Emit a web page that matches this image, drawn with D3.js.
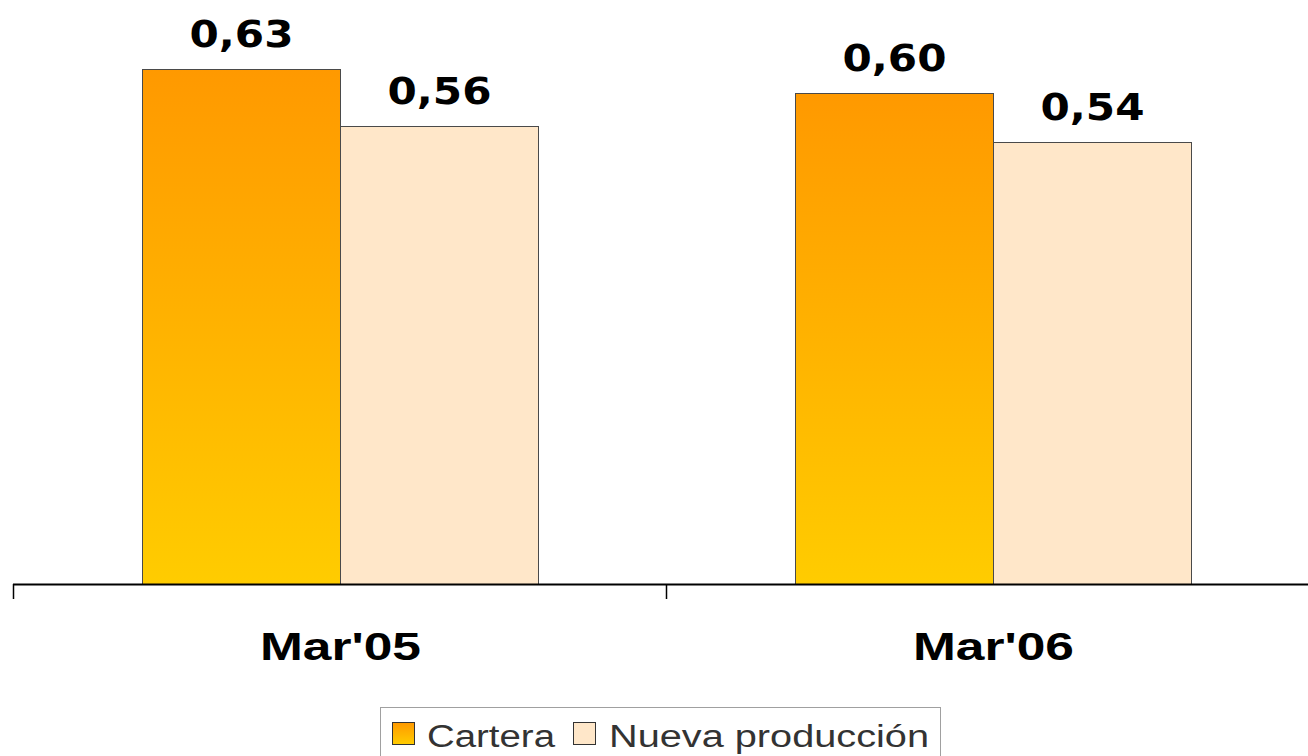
<!DOCTYPE html>
<html>
<head>
<meta charset="utf-8">
<script src="https://cdn.jsdelivr.net/npm/d3@7"></script>
<style>
html,body{margin:0;padding:0;background:#fff;}
svg{display:block;}
</style>
</head>
<body>
<svg id="chart" width="1308" height="756"></svg>
<script>
const categories = ["Mar'05", "Mar'06"];
const series = ["Cartera", "Nueva producción"];
const cartera = [0.63, 0.60];
const nuevaProduccion = [0.56, 0.54];
const valueLabels = [["0,63", "0,56"], ["0,60", "0,54"]];

const svg = d3.select("#chart");
const baseY = 584;

const defs = svg.append("defs");
const g1 = defs.append("linearGradient").attr("id","gradC").attr("x1","0").attr("y1","0").attr("x2","0").attr("y2","1");
g1.append("stop").attr("offset","0%").attr("stop-color","#FF9900");
g1.append("stop").attr("offset","100%").attr("stop-color","#FFCC00");
const g2 = defs.append("linearGradient").attr("id","gradL").attr("x1","0").attr("y1","0").attr("x2","0").attr("y2","1");
g2.append("stop").attr("offset","0%").attr("stop-color","#FF9900");
g2.append("stop").attr("offset","100%").attr("stop-color","#FFCC00");

const x0 = d3.scaleBand().domain(categories).range([13, 1319]).padding(0);
const x1 = d3.scaleBand().domain(series).range([129, 525]).padding(0);
const y = d3.scaleLinear().domain([0, 0.7]).range([baseY, baseY - 0.7 * 818]);

const fills = ["url(#gradC)", "#FFE7C9"];
const data = categories.map((c, i) => ({cat: c, vals: [cartera[i], nuevaProduccion[i]], labels: valueLabels[i]}));

const groups = svg.selectAll("g.grp").data(data).enter().append("g")
  .attr("class","grp").attr("transform", d => `translate(${x0(d.cat)},0)`);

groups.selectAll("rect").data(d => d.vals.map((v, j) => ({s: series[j], v, j}))).enter().append("rect")
  .attr("x", d => x1(d.s) + 0.5)
  .attr("y", d => Math.round(y(d.v)) + 0.5)
  .attr("width", x1.bandwidth())
  .attr("height", d => baseY - Math.round(y(d.v)))
  .attr("fill", d => fills[d.j])
  .attr("stroke", "#4a4a4a")
  .attr("stroke-width", 1);

groups.selectAll("text.val").data(d => d.vals.map((v, j) => ({s: series[j], v, j, l: d.labels[j]}))).enter().append("text")
  .attr("class","val")
  .attr("x", d => x1(d.s) + x1.bandwidth()/2 + 0.5)
  .attr("y", d => y(d.v) - 22)
  .attr("text-anchor","middle")
  .attr("font-family","DejaVu Sans, Verdana, sans-serif")
  .attr("font-weight","bold")
  .attr("font-size", 37)
  .attr("fill","#000")
  .attr("textLength", 104)
  .attr("lengthAdjust","spacingAndGlyphs")
  .text(d => d.l);

// axis
svg.append("line").attr("x1", 13).attr("x2", 1308).attr("y1", baseY + 0.5).attr("y2", baseY + 0.5)
  .attr("stroke","#000").attr("stroke-width", 2);
const bounds = categories.map(c => x0(c)).concat([x0.range()[1]]);
svg.selectAll("line.tick").data(bounds).enter().append("line").attr("class","tick")
  .attr("x1", d => d + 0.5).attr("x2", d => d + 0.5).attr("y1", baseY).attr("y2", baseY + 15)
  .attr("stroke","#000").attr("stroke-width", 1.5);

svg.selectAll("text.cat").data(categories).enter().append("text").attr("class","cat")
  .attr("x", d => x0(d) + x0.bandwidth()/2 + 1)
  .attr("y", 660)
  .attr("text-anchor","middle")
  .attr("font-family","Liberation Sans, Arial, sans-serif")
  .attr("font-weight","bold")
  .attr("font-size", 38)
  .attr("fill","#000")
  .attr("textLength", 161)
  .attr("lengthAdjust","spacingAndGlyphs")
  .text(d => d);

// legend
const lg = svg.append("g");
lg.append("rect").attr("x", 380.5).attr("y", 707.5).attr("width", 560).attr("height", 60)
  .attr("fill","#fff").attr("stroke","#a0a0a0").attr("stroke-width",1);
const legendItems = [
  {name: series[0], sx: 392, tx: 427, tl: 128, fill: "url(#gradL)"},
  {name: series[1], sx: 573, tx: 609, tl: 320, fill: fills[1]}
];
legendItems.forEach(it => {
  lg.append("rect").attr("x", it.sx + 0.5).attr("y", 722.5).attr("width", 22).attr("height", 22)
    .attr("fill", it.fill).attr("stroke","#333").attr("stroke-width",1);
  lg.append("text").attr("x", it.tx).attr("y", 747)
    .attr("font-family","Liberation Sans, Arial, sans-serif")
    .attr("font-size", 31)
    .attr("fill","#333")
    .attr("textLength", it.tl)
    .attr("lengthAdjust","spacingAndGlyphs")
    .text(it.name);
});
</script>
</body>
</html>
